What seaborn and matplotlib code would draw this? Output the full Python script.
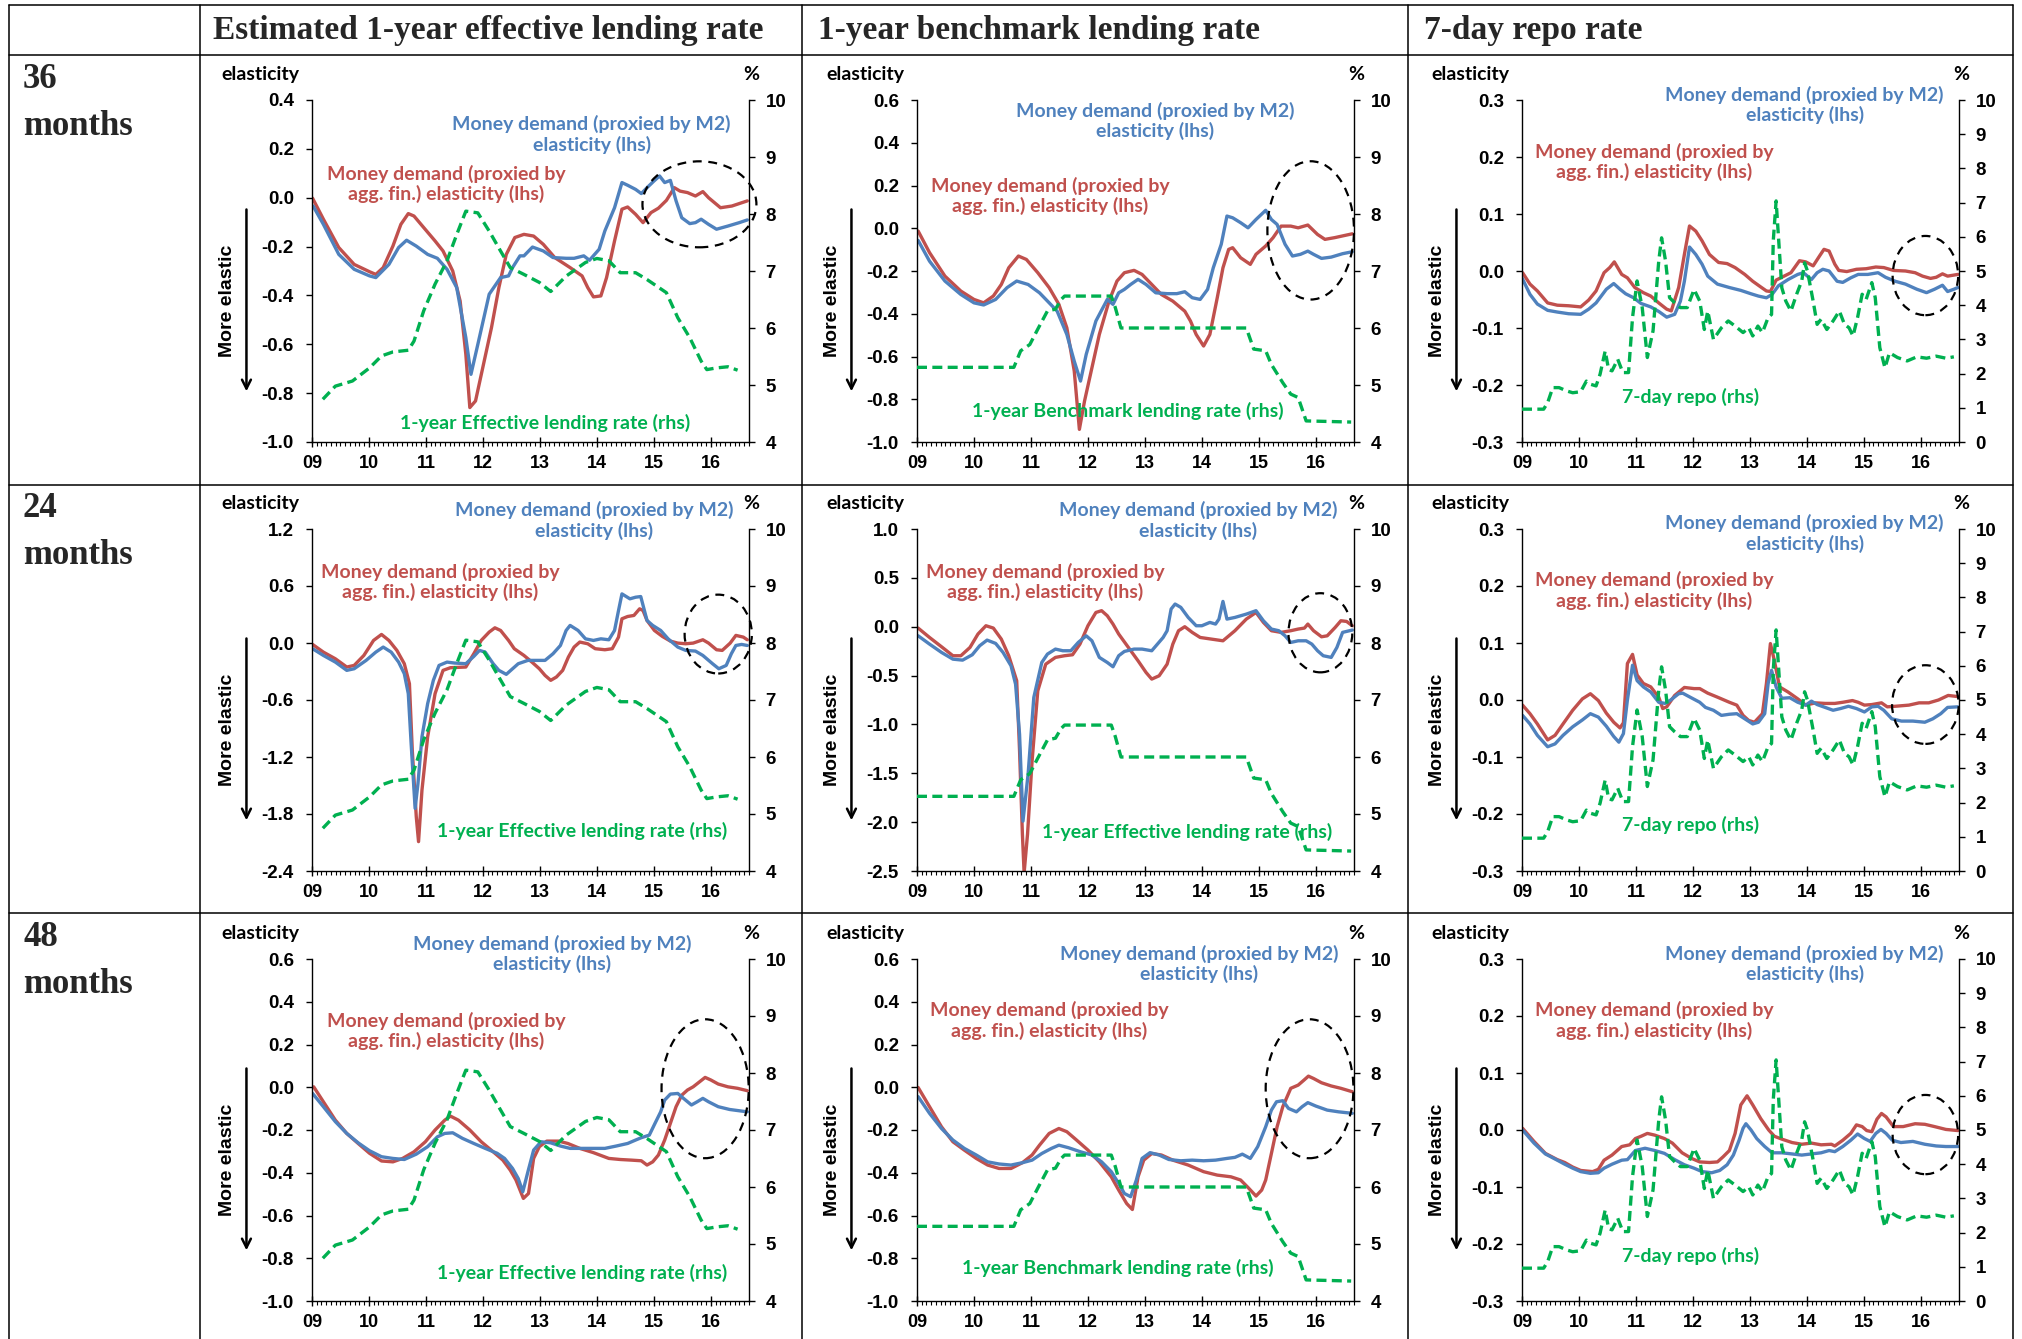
import numpy as np
import pandas as pd
import matplotlib
matplotlib.use("Agg")
import matplotlib.pyplot as plt
import seaborn as sns
from matplotlib.patches import Ellipse
from matplotlib.lines import Line2D
from matplotlib.ticker import FuncFormatter, FixedLocator

# ---------------------------------------------------------------- data
col_titles = ["Estimated 1-year effective lending rate", "1-year benchmark lending rate", "7-day repo rate"]
row_titles = ["36\nmonths", "24\nmonths", "48\nmonths"]
year_labels = ["09", "10", "11", "12", "13", "14", "15", "16"]
blue_label = "Money demand (proxied by M2)\nelasticity (lhs)"
red_label = "Money demand (proxied by\nagg. fin.) elasticity (lhs)"
green_labels = [["1-year Effective lending rate (rhs)", "1-year Benchmark lending rate (rhs)", "7-day repo (rhs)"],
                ["1-year Effective lending rate (rhs)", "1-year Effective lending rate (rhs)", "7-day repo (rhs)"],
                ["1-year Effective lending rate (rhs)", "1-year Benchmark lending rate (rhs)", "7-day repo (rhs)"]]

# rates (rhs, %)  (time in years since 2000, value)
eff_rate = [(9.19,4.75),(9.41,4.98),(9.71,5.07),(10.01,5.30),(10.22,5.51),(10.42,5.58),(10.69,5.61),(10.79,5.77),
            (10.96,6.30),(11.16,6.77),(11.37,7.18),(11.54,7.64),(11.70,8.05),(11.91,8.02),(12.11,7.70),(12.31,7.35),
            (12.48,7.06),(12.72,6.94),(12.99,6.80),(13.19,6.64),(13.46,6.91),(13.80,7.15),(14.00,7.22),(14.21,7.18),
            (14.41,6.97),(14.68,6.97),(14.88,6.85),(15.22,6.62),(15.42,6.18),(15.63,5.83),(15.83,5.42),(15.93,5.27),
            (16.10,5.30),(16.30,5.32),(16.47,5.26)]
bench_rate = [(9.00,5.31),(10.70,5.31),(10.82,5.60),(10.98,5.71),(11.12,5.98),(11.29,6.30),(11.43,6.33),(11.53,6.50),
              (11.59,6.56),(12.41,6.56),(12.48,6.36),(12.58,6.00),(14.78,6.00),(14.91,5.63),(15.12,5.60),(15.22,5.36),
              (15.42,5.04),(15.56,4.84),(15.69,4.78),(15.83,4.37),(16.62,4.35)]
repo_rate = [(9.00,0.96),(9.38,0.96),(9.45,1.15),(9.54,1.59),(9.65,1.59),(9.79,1.49),(9.89,1.44),(10.03,1.47),
             (10.13,1.78),(10.20,1.69),(10.30,1.64),(10.37,1.98),(10.46,2.66),(10.52,2.12),(10.58,2.08),(10.68,2.42),
             (10.77,2.03),(10.87,2.03),(10.94,3.64),(11.02,4.71),(11.11,3.93),(11.20,2.47),(11.30,3.25),(11.40,5.29),
             (11.45,5.97),(11.52,5.29),(11.59,4.22),(11.68,4.07),(11.78,3.93),(11.90,3.93),(12.02,4.46),(12.12,4.12),
             (12.20,3.29),(12.26,3.83),(12.36,3.00),(12.50,3.34),(12.62,3.54),(12.74,3.39),(12.88,3.20),(12.98,3.34),
             (13.05,3.10),(13.14,3.39),(13.22,3.20),(13.32,3.64),(13.38,3.73),(13.41,5.88),(13.46,7.05),(13.51,5.78),
             (13.56,4.51),(13.63,4.12),(13.72,3.83),(13.82,4.32),(13.91,4.71),(13.96,5.24),(14.01,5.00),(14.11,4.12),
             (14.18,3.44),(14.25,3.59),(14.35,3.29),(14.46,3.54),(14.57,3.83),(14.66,3.44),(14.74,3.34),(14.81,3.10),
             (14.89,3.64),(14.97,4.32),(15.04,4.17),(15.14,4.66),(15.20,4.22),(15.28,2.76),(15.37,2.17),(15.45,2.61),
             (15.59,2.47),(15.76,2.37),(15.93,2.49),(16.10,2.45),(16.27,2.51),(16.44,2.45),(16.58,2.49)]

# elasticities (lhs)
m2_36_eff = [(9.02,-0.034),(9.20,-0.109),(9.47,-0.232),(9.74,-0.293),(10.01,-0.320),(10.12,-0.327),(10.35,-0.273),
             (10.52,-0.204),(10.66,-0.174),(10.83,-0.198),(11.03,-0.232),(11.20,-0.248),(11.37,-0.293),(11.54,-0.368),
             (11.70,-0.573),(11.79,-0.723),(11.91,-0.601),(12.11,-0.395),(12.31,-0.327),(12.45,-0.320),(12.52,-0.286),
             (12.65,-0.238),(12.72,-0.238),(12.87,-0.202),(13.06,-0.218),(13.23,-0.245),(13.46,-0.248),(13.60,-0.248),
             (13.77,-0.238),(13.87,-0.256),(14.04,-0.211),(14.14,-0.136),(14.31,-0.041),(14.44,0.062),(14.54,0.051),
             (14.68,0.034),(14.78,0.017),(14.88,0.041),(15.00,0.068),(15.10,0.089),(15.19,0.062),(15.29,0.071),
             (15.39,-0.013),(15.49,-0.082),(15.63,-0.106),(15.73,-0.102),(15.83,-0.088),(15.96,-0.109),(16.10,-0.129),
             (16.30,-0.116),(16.50,-0.102),(16.64,-0.091)]
af_36_eff = [(9.01,-0.002),(9.20,-0.088),(9.47,-0.204),(9.74,-0.273),(10.01,-0.303),(10.12,-0.314),(10.25,-0.286),
             (10.42,-0.198),(10.56,-0.109),(10.69,-0.065),(10.79,-0.075),(10.96,-0.122),(11.16,-0.177),(11.30,-0.218),
             (11.47,-0.300),(11.60,-0.423),(11.70,-0.641),(11.77,-0.859),(11.87,-0.832),(12.01,-0.682),(12.15,-0.532),
             (12.28,-0.368),(12.41,-0.232),(12.56,-0.163),(12.72,-0.150),(12.89,-0.157),(13.06,-0.191),(13.26,-0.245),
             (13.53,-0.286),(13.74,-0.320),(13.84,-0.368),(13.94,-0.406),(14.07,-0.402),(14.17,-0.327),(14.31,-0.177),
             (14.44,-0.047),(14.54,-0.038),(14.68,-0.068),(14.81,-0.102),(14.95,-0.061),(15.08,-0.043),(15.22,-0.011),
             (15.36,0.041),(15.46,0.027),(15.59,0.021),(15.73,0.007),(15.86,0.025),(15.96,0.000),(16.17,-0.041),
             (16.37,-0.034),(16.64,-0.013)]
m2_36_bm = [(9.02,-0.057),(9.22,-0.154),(9.49,-0.247),(9.77,-0.310),(10.00,-0.349),(10.17,-0.359),(10.38,-0.333),
            (10.58,-0.278),(10.75,-0.247),(10.95,-0.263),(11.15,-0.302),(11.32,-0.349),(11.46,-0.388),(11.63,-0.497),
            (11.76,-0.622),(11.87,-0.715),(11.97,-0.590),(12.14,-0.434),(12.34,-0.333),(12.44,-0.356),(12.54,-0.302),
            (12.64,-0.286),(12.75,-0.263),(12.88,-0.239),(13.02,-0.263),(13.19,-0.302),(13.39,-0.306),(13.56,-0.306),
            (13.70,-0.297),(13.83,-0.325),(13.97,-0.333),(14.10,-0.286),(14.20,-0.185),(14.34,-0.075),(14.44,0.057),
            (14.54,0.049),(14.68,0.026),(14.81,0.002),(14.95,0.041),(15.12,0.084),(15.22,0.041),(15.32,0.018),
            (15.46,-0.075),(15.59,-0.130),(15.73,-0.122),(15.86,-0.107),(15.96,-0.122),(16.10,-0.141),(16.27,-0.135),
            (16.47,-0.119),(16.64,-0.110)]
af_36_bm = [(9.02,-0.013),(9.22,-0.114),(9.49,-0.224),(9.77,-0.294),(10.00,-0.333),(10.17,-0.349),(10.34,-0.317),
            (10.48,-0.263),(10.61,-0.185),(10.78,-0.130),(10.92,-0.146),(11.12,-0.208),(11.32,-0.278),(11.49,-0.356),
            (11.63,-0.466),(11.76,-0.668),(11.85,-0.941),(11.94,-0.809),(12.07,-0.653),(12.20,-0.497),(12.37,-0.341),
            (12.51,-0.247),(12.64,-0.208),(12.81,-0.197),(12.95,-0.216),(13.12,-0.263),(13.29,-0.310),(13.49,-0.341),
            (13.70,-0.388),(13.80,-0.434),(13.90,-0.497),(14.03,-0.551),(14.14,-0.497),(14.27,-0.325),(14.37,-0.185),
            (14.47,-0.099),(14.54,-0.091),(14.68,-0.138),(14.85,-0.169),(14.95,-0.122),(15.12,-0.083),(15.25,-0.044),
            (15.39,0.010),(15.56,0.010),(15.69,0.002),(15.86,0.015),(16.03,-0.029),(16.16,-0.052),(16.33,-0.044),
            (16.64,-0.026)]
m2_36_rp = [(9.00,-0.012),(9.14,-0.041),(9.27,-0.058),(9.45,-0.069),(9.62,-0.072),(9.82,-0.075),(10.03,-0.076),
            (10.17,-0.067),(10.30,-0.056),(10.48,-0.032),(10.61,-0.022),(10.72,-0.032),(10.82,-0.040),(10.96,-0.047),
            (11.09,-0.057),(11.26,-0.063),(11.40,-0.071),(11.54,-0.081),(11.68,-0.076),(11.78,-0.053),(11.85,-0.018),
            (11.94,0.042),(12.05,0.029),(12.16,0.012),(12.26,-0.009),(12.43,-0.023),(12.64,-0.029),(12.84,-0.034),
            (13.02,-0.040),(13.15,-0.044),(13.29,-0.047),(13.39,-0.041),(13.50,-0.026),(13.67,-0.015),(13.84,-0.006),
            (13.94,-0.003),(14.08,-0.015),(14.18,-0.003),(14.28,0.003),(14.39,0.000),(14.53,-0.018),(14.63,-0.020),
            (14.77,-0.012),(14.90,-0.006),(15.07,-0.006),(15.25,-0.003),(15.38,-0.011),(15.55,-0.018),(15.73,-0.023),
            (15.93,-0.032),(16.10,-0.038),(16.24,-0.032),(16.38,-0.025),(16.47,-0.036),(16.58,-0.032),(16.65,-0.029)]
af_36_rp = [(9.01,-0.003),(9.14,-0.023),(9.27,-0.035),(9.45,-0.056),(9.62,-0.060),(9.82,-0.061),(10.03,-0.063),
            (10.17,-0.051),(10.30,-0.035),(10.44,-0.003),(10.54,0.006),(10.62,0.016),(10.75,-0.006),(10.85,-0.012),
            (10.98,-0.029),(11.13,-0.038),(11.26,-0.044),(11.40,-0.056),(11.54,-0.067),(11.62,-0.070),(11.75,-0.029),
            (11.85,0.029),(11.94,0.079),(12.05,0.070),(12.16,0.053),(12.29,0.029),(12.45,0.015),(12.60,0.013),
            (12.74,0.006),(12.91,-0.006),(13.05,-0.018),(13.19,-0.028),(13.29,-0.035),(13.36,-0.036),(13.46,-0.016),
            (13.60,-0.009),(13.72,-0.003),(13.87,0.018),(13.98,0.016),(14.11,0.009),(14.22,0.026),(14.30,0.038),
            (14.39,0.035),(14.49,0.012),(14.56,0.001),(14.70,-0.001),(14.87,0.003),(15.04,0.004),(15.21,0.007),
            (15.35,0.006),(15.52,0.001),(15.73,0.000),(15.90,-0.003),(16.03,-0.009),(16.17,-0.013),(16.27,-0.011),
            (16.38,-0.005),(16.47,-0.009),(16.65,-0.006)]
m2_24_eff = [(9.01,-0.060),(9.20,-0.131),(9.41,-0.201),(9.61,-0.288),(9.74,-0.271),(9.95,-0.183),(10.12,-0.096),
             (10.25,-0.043),(10.39,-0.096),(10.52,-0.201),(10.62,-0.323),(10.69,-0.533),(10.74,-1.058),(10.81,-1.741),
             (10.86,-1.479),(10.93,-0.988),(11.03,-0.638),(11.13,-0.393),(11.23,-0.236),(11.37,-0.201),(11.50,-0.211),
             (11.70,-0.218),(11.84,-0.141),(11.94,-0.078),(12.04,-0.096),(12.18,-0.218),(12.28,-0.288),(12.41,-0.330),
             (12.52,-0.271),(12.62,-0.218),(12.79,-0.183),(12.96,-0.183),(13.09,-0.183),(13.23,-0.113),(13.36,-0.026),
             (13.46,0.132),(13.53,0.185),(13.67,0.132),(13.80,0.044),(13.94,0.027),(14.07,0.044),(14.21,0.034),
             (14.31,0.132),(14.38,0.342),(14.44,0.517),(14.58,0.465),(14.68,0.482),(14.77,0.489),(14.88,0.237),
             (14.98,0.185),(15.12,0.132),(15.25,0.044),(15.42,-0.043),(15.56,-0.078),(15.73,-0.085),(15.86,-0.131),
             (16.03,-0.218),(16.14,-0.271),(16.27,-0.236),(16.36,-0.113),(16.44,-0.026),(16.54,-0.015),(16.64,-0.026)]
af_24_eff = [(9.01,-0.015),(9.20,-0.096),(9.41,-0.166),(9.61,-0.253),(9.74,-0.236),(9.91,-0.131),(10.08,0.027),
             (10.22,0.090),(10.35,0.027),(10.49,-0.078),(10.62,-0.218),(10.71,-0.428),(10.76,-1.128),(10.83,-1.828),
             (10.87,-2.091),(10.93,-1.549),(11.03,-0.988),(11.16,-0.533),(11.30,-0.288),(11.43,-0.260),(11.70,-0.253),
             (11.84,-0.113),(11.97,0.027),(12.11,0.115),(12.21,0.160),(12.31,0.132),(12.45,0.027),(12.55,-0.060),
             (12.72,-0.131),(12.86,-0.201),(12.99,-0.271),(13.09,-0.341),(13.19,-0.393),(13.29,-0.358),(13.40,-0.288),
             (13.50,-0.148),(13.60,-0.043),(13.70,0.010),(13.84,-0.008),(13.97,-0.060),(14.14,-0.071),(14.27,-0.060),
             (14.38,0.062),(14.44,0.255),(14.54,0.279),(14.65,0.290),(14.75,0.360),(14.81,0.342),(14.88,0.237),
             (15.01,0.132),(15.15,0.069),(15.29,0.020),(15.42,-0.001),(15.56,-0.008),(15.69,-0.001),(15.86,0.034),
             (15.96,-0.001),(16.10,-0.071),(16.20,-0.078),(16.34,-0.001),(16.44,0.080),(16.57,0.062),(16.64,0.034)]
m2_24_bm = [(9.02,-0.093),(9.22,-0.178),(9.43,-0.263),(9.63,-0.332),(9.80,-0.342),(9.97,-0.287),(10.10,-0.195),
            (10.23,-0.137),(10.38,-0.171),(10.51,-0.263),(10.65,-0.400),(10.73,-0.588),(10.80,-1.100),(10.86,-1.990),
            (10.95,-1.509),(11.05,-0.724),(11.19,-0.366),(11.29,-0.280),(11.43,-0.229),(11.56,-0.246),(11.70,-0.246),
            (11.83,-0.161),(11.97,-0.093),(12.07,-0.144),(12.20,-0.314),(12.34,-0.366),(12.44,-0.410),(12.54,-0.297),
            (12.64,-0.253),(12.81,-0.229),(12.95,-0.229),(13.12,-0.246),(13.22,-0.178),(13.32,-0.110),(13.39,-0.041),
            (13.46,0.181),(13.53,0.232),(13.63,0.198),(13.76,0.095),(13.90,0.010),(14.00,0.010),(14.14,0.044),
            (14.24,0.027),(14.30,0.078),(14.37,0.259),(14.44,0.078),(14.58,0.095),(14.78,0.129),(14.95,0.164),
            (15.08,0.061),(15.22,-0.024),(15.35,-0.041),(15.46,-0.093),(15.56,-0.161),(15.69,-0.144),(15.83,-0.144),
            (15.93,-0.178),(16.03,-0.246),(16.13,-0.297),(16.27,-0.314),(16.37,-0.212),(16.47,-0.058),(16.64,-0.034)]
af_24_bm = [(9.02,-0.014),(9.22,-0.110),(9.43,-0.205),(9.63,-0.297),(9.77,-0.297),(9.93,-0.212),(10.07,-0.075),
            (10.21,0.010),(10.34,-0.014),(10.48,-0.127),(10.61,-0.297),(10.75,-0.553),(10.80,-1.270),(10.85,-2.124),
            (10.88,-2.520),(10.94,-2.124),(11.02,-1.373),(11.12,-0.656),(11.26,-0.383),(11.43,-0.314),(11.59,-0.297),
            (11.73,-0.287),(11.86,-0.178),(12.00,0.010),(12.14,0.146),(12.24,0.164),(12.34,0.112),(12.44,0.027),
            (12.54,-0.075),(12.71,-0.212),(12.88,-0.349),(13.02,-0.468),(13.12,-0.536),(13.25,-0.502),(13.39,-0.383),
            (13.49,-0.178),(13.59,-0.041),(13.70,0.000),(13.83,-0.058),(13.97,-0.110),(14.17,-0.127),(14.37,-0.144),
            (14.58,-0.041),(14.78,0.078),(14.95,0.146),(15.08,0.044),(15.22,-0.041),(15.39,-0.058),(15.56,-0.041),
            (15.69,-0.024),(15.80,-0.014),(15.86,0.027),(15.96,-0.041),(16.10,-0.103),(16.20,-0.093),(16.34,-0.007),
            (16.44,0.061),(16.54,0.054),(16.64,0.010)]
m2_24_rp = [(9.01,-0.027),(9.14,-0.042),(9.27,-0.062),(9.45,-0.082),(9.58,-0.077),(9.72,-0.062),(9.89,-0.047),
            (10.06,-0.035),(10.20,-0.024),(10.34,-0.030),(10.48,-0.046),(10.61,-0.064),(10.70,-0.074),(10.78,-0.059),
            (10.85,0.000),(10.94,0.061),(11.02,0.034),(11.13,0.023),(11.26,0.014),(11.40,-0.004),(11.51,-0.006),
            (11.61,0.000),(11.75,0.011),(11.82,0.012),(11.95,0.005),(12.12,-0.004),(12.22,-0.013),(12.36,-0.018),
            (12.50,-0.027),(12.64,-0.025),(12.77,-0.024),(12.91,-0.033),(13.05,-0.042),(13.15,-0.039),(13.26,-0.024),
            (13.32,0.029),(13.38,0.052),(13.46,0.023),(13.56,0.003),(13.70,0.004),(13.84,-0.004),(13.98,-0.009),
            (14.08,-0.002),(14.18,-0.008),(14.32,-0.013),(14.46,-0.018),(14.59,-0.015),(14.73,-0.011),(14.87,-0.015),
            (15.01,-0.021),(15.14,-0.012),(15.25,-0.011),(15.35,-0.018),(15.49,-0.033),(15.66,-0.037),(15.86,-0.037),
            (16.07,-0.039),(16.21,-0.033),(16.35,-0.024),(16.47,-0.013),(16.65,-0.012)]
af_24_rp = [(9.01,-0.009),(9.14,-0.024),(9.27,-0.042),(9.45,-0.070),(9.58,-0.062),(9.72,-0.042),(9.89,-0.018),
            (10.06,0.002),(10.20,0.011),(10.34,-0.001),(10.48,-0.023),(10.61,-0.039),(10.72,-0.049),(10.78,-0.040),
            (10.85,0.064),(10.94,0.080),(11.02,0.044),(11.13,0.029),(11.26,0.023),(11.40,0.005),(11.47,-0.015),
            (11.54,-0.012),(11.68,0.008),(11.85,0.022),(12.02,0.020),(12.12,0.020),(12.26,0.012),(12.43,0.005),
            (12.64,-0.004),(12.77,-0.009),(12.88,-0.027),(12.98,-0.036),(13.08,-0.039),(13.22,-0.024),(13.29,0.029),
            (13.36,0.099),(13.43,0.069),(13.52,0.023),(13.67,0.014),(13.84,0.002),(13.98,-0.009),(14.15,-0.005),
            (14.32,-0.006),(14.49,-0.006),(14.63,-0.004),(14.80,-0.001),(14.90,-0.004),(15.01,-0.009),(15.14,-0.008),
            (15.31,-0.005),(15.41,-0.012),(15.55,-0.011),(15.79,-0.009),(15.97,-0.005),(16.14,-0.005),(16.31,0.000),
            (16.48,0.008),(16.65,0.006)]
m2_48_eff = [(9.01,-0.029),(9.20,-0.091),(9.41,-0.161),(9.61,-0.216),(9.81,-0.260),(10.01,-0.297),(10.22,-0.325),
             (10.42,-0.333),(10.62,-0.338),(10.83,-0.313),(11.03,-0.278),(11.20,-0.232),(11.33,-0.216),(11.47,-0.213),
             (11.64,-0.239),(11.84,-0.263),(12.04,-0.286),(12.25,-0.309),(12.38,-0.333),(12.52,-0.380),(12.62,-0.427),
             (12.70,-0.489),(12.79,-0.395),(12.89,-0.294),(13.02,-0.255),(13.19,-0.260),(13.36,-0.275),(13.53,-0.286),
             (13.73,-0.286),(13.94,-0.286),(14.14,-0.286),(14.34,-0.275),(14.54,-0.263),(14.68,-0.247),(14.78,-0.236),
             (14.92,-0.224),(15.02,-0.169),(15.12,-0.115),(15.19,-0.060),(15.29,-0.032),(15.42,-0.029),(15.52,-0.052),
             (15.66,-0.083),(15.76,-0.068),(15.86,-0.052),(15.96,-0.068),(16.13,-0.091),(16.33,-0.104),(16.64,-0.115)]
af_48_eff = [(9.03,0.002),(9.20,-0.068),(9.41,-0.154),(9.61,-0.216),(9.81,-0.263),(10.01,-0.309),(10.22,-0.345),
             (10.42,-0.349),(10.59,-0.333),(10.79,-0.302),(10.99,-0.255),(11.16,-0.200),(11.33,-0.154),(11.43,-0.135),
             (11.57,-0.154),(11.77,-0.200),(11.97,-0.255),(12.18,-0.302),(12.35,-0.341),(12.48,-0.388),(12.58,-0.434),
             (12.71,-0.520),(12.80,-0.497),(12.89,-0.333),(12.99,-0.278),(13.12,-0.252),(13.33,-0.252),(13.49,-0.263),
             (13.70,-0.286),(13.94,-0.306),(14.21,-0.333),(14.41,-0.338),(14.61,-0.341),(14.78,-0.344),(14.88,-0.364),
             (14.98,-0.349),(15.08,-0.317),(15.19,-0.247),(15.29,-0.169),(15.39,-0.091),(15.49,-0.037),(15.59,-0.013),
             (15.69,0.002),(15.80,0.025),(15.90,0.046),(16.00,0.034),(16.13,0.015),(16.30,0.002),(16.47,-0.005),
             (16.64,-0.016)]
m2_48_bm = [(9.02,-0.044),(9.22,-0.122),(9.43,-0.193),(9.63,-0.247),(9.83,-0.286),(10.04,-0.317),(10.24,-0.349),
            (10.44,-0.359),(10.65,-0.364),(10.85,-0.353),(11.02,-0.341),(11.19,-0.310),(11.36,-0.286),(11.49,-0.271),
            (11.66,-0.283),(11.87,-0.302),(12.07,-0.317),(12.24,-0.349),(12.41,-0.395),(12.54,-0.450),(12.64,-0.497),
            (12.75,-0.512),(12.85,-0.434),(12.95,-0.333),(13.09,-0.306),(13.25,-0.317),(13.42,-0.338),(13.63,-0.344),
            (13.83,-0.341),(14.03,-0.344),(14.24,-0.341),(14.44,-0.333),(14.58,-0.328),(14.71,-0.313),(14.85,-0.333),
            (14.98,-0.278),(15.12,-0.185),(15.22,-0.107),(15.31,-0.068),(15.42,-0.063),(15.52,-0.099),(15.66,-0.115),
            (15.76,-0.091),(15.86,-0.072),(16.00,-0.088),(16.20,-0.107),(16.40,-0.115),(16.64,-0.122)]
af_48_bm = [(9.02,-0.001),(9.22,-0.091),(9.43,-0.185),(9.63,-0.255),(9.83,-0.294),(10.04,-0.333),(10.24,-0.364),
            (10.44,-0.380),(10.65,-0.380),(10.85,-0.353),(11.02,-0.317),(11.15,-0.271),(11.32,-0.216),(11.49,-0.193),
            (11.63,-0.208),(11.80,-0.247),(12.00,-0.294),(12.20,-0.349),(12.41,-0.419),(12.54,-0.481),(12.68,-0.544),
            (12.78,-0.572),(12.88,-0.419),(12.98,-0.341),(13.12,-0.310),(13.29,-0.317),(13.49,-0.341),(13.76,-0.364),
            (14.03,-0.395),(14.27,-0.411),(14.51,-0.419),(14.68,-0.434),(14.81,-0.469),(14.95,-0.509),(15.05,-0.481),
            (15.12,-0.434),(15.22,-0.310),(15.32,-0.185),(15.42,-0.091),(15.56,-0.005),(15.69,0.010),(15.79,0.033),
            (15.87,0.052),(15.96,0.041),(16.10,0.021),(16.27,0.006),(16.44,-0.005),(16.64,-0.021)]
m2_48_rp = [(9.01,0.000),(9.21,-0.023),(9.41,-0.042),(9.62,-0.053),(9.75,-0.060),(9.89,-0.067),(10.03,-0.073),
            (10.20,-0.076),(10.34,-0.075),(10.44,-0.067),(10.58,-0.060),(10.75,-0.053),(10.85,-0.052),(10.99,-0.036),
            (11.16,-0.032),(11.33,-0.036),(11.50,-0.041),(11.68,-0.052),(11.85,-0.061),(12.02,-0.067),(12.16,-0.073),
            (12.33,-0.075),(12.47,-0.071),(12.60,-0.061),(12.71,-0.044),(12.81,-0.018),(12.88,0.003),(12.93,0.011),
            (13.02,0.000),(13.12,-0.015),(13.26,-0.029),(13.39,-0.040),(13.56,-0.040),(13.74,-0.042),(13.91,-0.044),
            (14.08,-0.042),(14.25,-0.040),(14.39,-0.036),(14.49,-0.038),(14.63,-0.029),(14.77,-0.018),(14.89,-0.007),
            (15.01,-0.015),(15.11,-0.020),(15.21,-0.006),(15.30,0.001),(15.39,-0.006),(15.50,-0.018),(15.65,-0.022),
            (15.86,-0.020),(16.07,-0.025),(16.27,-0.028),(16.44,-0.029),(16.65,-0.029)]
af_48_rp = [(9.01,0.003),(9.21,-0.020),(9.41,-0.041),(9.62,-0.052),(9.75,-0.057),(9.89,-0.065),(10.03,-0.071),
            (10.24,-0.073),(10.34,-0.069),(10.44,-0.053),(10.58,-0.044),(10.75,-0.029),(10.89,-0.026),(10.99,-0.015),
            (11.09,-0.011),(11.20,-0.006),(11.33,-0.009),(11.50,-0.015),(11.64,-0.023),(11.81,-0.040),(11.98,-0.050),
            (12.12,-0.056),(12.29,-0.057),(12.43,-0.056),(12.53,-0.047),(12.64,-0.036),(12.74,-0.006),(12.84,0.044),
            (12.95,0.060),(13.05,0.044),(13.19,0.020),(13.33,0.000),(13.43,-0.011),(13.56,-0.016),(13.74,-0.022),
            (13.91,-0.025),(14.08,-0.023),(14.25,-0.026),(14.43,-0.025),(14.49,-0.028),(14.63,-0.018),(14.77,-0.006),
            (14.87,0.009),(14.97,0.006),(15.05,-0.001),(15.14,-0.003),(15.23,0.019),(15.31,0.029),(15.39,0.023),
            (15.52,0.006),(15.69,0.006),(15.90,0.011),(16.07,0.010),(16.24,0.006),(16.44,0.001),(16.65,-0.001)]

m2_series = [[m2_36_eff, m2_36_bm, m2_36_rp], [m2_24_eff, m2_24_bm, m2_24_rp], [m2_48_eff, m2_48_bm, m2_48_rp]]
af_series = [[af_36_eff, af_36_bm, af_36_rp], [af_24_eff, af_24_bm, af_24_rp], [af_48_eff, af_48_bm, af_48_rp]]
rate_series = [eff_rate, bench_rate, repo_rate]
left_ranges = [[(-1.0, 0.4, 0.2), (-1.0, 0.6, 0.2), (-0.3, 0.3, 0.1)],
               [(-2.4, 1.2, 0.6), (-2.5, 1.0, 0.5), (-0.3, 0.3, 0.1)],
               [(-1.0, 0.6, 0.2), (-1.0, 0.6, 0.2), (-0.3, 0.3, 0.1)]]
right_ranges = [(4, 10), (4, 10), (0, 10)]

# ---------------------------------------------------------------- layout / style
W, H = 2022, 1339
BLUE, RED, GREEN = "#4F81BD", "#C0504D", "#00B050"
col_left = [312, 917, 1522]
row_top = [100, 529, 959]
AW, AH = 437, 342
XMIN, XMAX = 9.0, 16.67
# annotation positions (axes fraction): blue, red, green ; ellipse (cx, cy, w, h) in data units
ann_pos = [[((0.640, 0.899), (0.307, 0.754), (0.533, 0.056), (15.80, -0.027, 2.00, 0.352)),
            ((0.545, 0.938), (0.305, 0.719), (0.482, 0.091), (15.91, -0.010, 1.52, 0.647)),
            ((0.647, 0.985), (0.302, 0.819), (0.385, 0.132), (16.08, -0.008, 1.15, 0.139))],
           [((0.645, 1.025), (0.294, 0.846), (0.618, 0.117), (16.13, 0.094, 1.18, 0.830)),
            ((0.643, 1.025), (0.294, 0.846), (0.618, 0.114), (16.08, -0.062, 1.12, 0.810)),
            ((0.647, 0.987), (0.302, 0.820), (0.385, 0.134), (16.08, -0.008, 1.17, 0.138))],
           [((0.550, 1.015), (0.307, 0.790), (0.618, 0.081), (15.90, -0.007, 1.53, 0.650)),
            ((0.645, 0.986), (0.303, 0.820), (0.459, 0.096), (15.89, -0.007, 1.54, 0.650)),
            ((0.647, 0.986), (0.302, 0.820), (0.385, 0.132), (16.08, -0.008, 1.15, 0.139))]]

sns.set_theme(style="white")
plt.rcParams["font.family"] = ["Liberation Sans", "DejaVu Sans"]
plt.rcParams["font.weight"] = "bold"
plt.rcParams["axes.labelweight"] = "bold"
ANN_FONT = ["Lato", "Liberation Sans", "DejaVu Sans"]
SERIF = ["Liberation Serif", "DejaVu Serif"]
LW = 2.4

fig = plt.figure(figsize=(W / 100, H / 100), dpi=100)
fig.patch.set_facecolor("white")

# table grid
def hline(y, x0=9, x1=2013):
    fig.add_artist(Line2D([x0 / W, x1 / W], [1 - y / H, 1 - y / H], transform=fig.transFigure, color="black", lw=1.1))
def vline(x, y0=5, y1=H):
    fig.add_artist(Line2D([x / W, x / W], [1 - y0 / H, 1 - y1 / H], transform=fig.transFigure, color="black", lw=1.1))
for y in [5, 55, 485, 913]:
    hline(y)
for x in [9, 200, 802, 1408, 2013]:
    vline(x)

header_x = [213, 818, 1424]
for x, t in zip(header_x, col_titles):
    fig.text(x / W, 1 - 30 / H, t, fontsize=24, family=SERIF, weight="bold", ha="left", va="center")
row_label_top = [63, 492, 921]
for y, t in zip(row_label_top, row_titles):
    fig.text(23 / W, 1 - y / H, t, fontsize=25, family=SERIF, weight="bold", ha="left", va="top", linespacing=1.55)

def fmt_left(v, pos):
    s = f"{v:.1f}"
    return "0.0" if s == "-0.0" else s

def draw(ax, data, color, **kw):
    df = pd.DataFrame(data, columns=["t", "v"])
    sns.lineplot(data=df, x="t", y="v", ax=ax, color=color, estimator=None, sort=False, **kw)

for r in range(3):
    for c in range(3):
        L, T = col_left[c], row_top[r]
        ax = fig.add_axes([L / W, 1 - (T + AH) / H, AW / W, AH / H])
        ax2 = ax.twinx()
        draw(ax, af_series[r][c], RED, linewidth=LW)
        draw(ax, m2_series[r][c], BLUE, linewidth=LW)
        draw(ax2, rate_series[c], GREEN, linewidth=LW)
        ax2.lines[-1].set_dashes((3.0, 1.6))
        lo, hi, step = left_ranges[r][c]
        rlo, rhi = right_ranges[c]
        ax.set_xlim(XMIN, XMAX)
        ax.set_ylim(lo, hi)
        ax2.set_ylim(rlo, rhi)
        ax.set_yticks(np.round(np.arange(lo, hi + step / 2, step), 3))
        ax.yaxis.set_major_formatter(FuncFormatter(fmt_left))
        ax2.set_yticks(np.arange(rlo, rhi + 1))
        ax.set_xticks(np.arange(9, 17))
        ax.set_xticklabels(year_labels)
        ax.xaxis.set_minor_locator(FixedLocator(np.arange(9, XMAX, 1 / 12)))
        for a in (ax, ax2):
            a.set_xlabel("")
            a.set_ylabel("")
            a.grid(False)
            for s in a.spines.values():
                s.set_visible(False)
        ax.patch.set_visible(False)
        ax.spines["left"].set_visible(True)
        ax.spines["bottom"].set_visible(True)
        ax2.spines["right"].set_visible(True)
        for s in (ax.spines["left"], ax.spines["bottom"], ax2.spines["right"]):
            s.set_color("black")
            s.set_linewidth(1.0)
        ax.tick_params(axis="y", which="major", left=True, direction="out", length=4, width=1.0,
                       pad=9, labelsize=13.5, colors="black")
        ax.tick_params(axis="x", which="major", bottom=True, direction="inout", length=7, width=1.0,
                       pad=6, labelsize=13, colors="black")
        ax.tick_params(axis="x", which="minor", bottom=True, direction="out", length=3, width=0.8, colors="black")
        ax2.tick_params(axis="y", which="major", right=True, direction="out", length=4, width=1.0,
                        pad=8, labelsize=13.5, colors="black")

        (bpos, rpos, gpos, ell) = ann_pos[r][c]
        ax2.text(*bpos, blue_label, transform=ax.transAxes, ha="center", va="center", color=BLUE,
                 fontsize=14, family=ANN_FONT, weight="bold", linespacing=1.15, multialignment="center")
        ax2.text(*rpos, red_label, transform=ax.transAxes, ha="center", va="center", color=RED,
                 fontsize=14, family=ANN_FONT, weight="bold", linespacing=1.15, multialignment="center")
        ax2.text(*gpos, green_labels[r][c], transform=ax.transAxes, ha="center", va="center", color=GREEN,
                 fontsize=14, family=ANN_FONT, weight="bold")
        ax.text(-0.208, 1.075, "elasticity", transform=ax.transAxes, ha="left", va="center",
                fontsize=14, family=ANN_FONT, weight="bold", color="black")
        ax.text(1.005, 1.075, "%", transform=ax.transAxes, ha="center", va="center",
                fontsize=14, family=ANN_FONT, weight="bold", color="black")
        ax.text(-0.193, 0.412, "More elastic", transform=ax.transAxes, rotation=90, ha="center", va="center",
                fontsize=14, weight="bold", color="black")
        ax.annotate("", xy=(-0.150, 0.140), xytext=(-0.150, 0.688), xycoords="axes fraction",
                    arrowprops=dict(arrowstyle="->", lw=1.8, color="black", mutation_scale=16),
                    annotation_clip=False)
        cx, cy, ew, eh = ell
        e = Ellipse((cx, cy), ew, eh, transform=ax.transData, fill=False, edgecolor="black",
                    linewidth=1.6, linestyle=(0, (4, 3)), clip_on=False, zorder=5)
        ax.add_patch(e)

fig.savefig("out.png", dpi=100, facecolor="white")
